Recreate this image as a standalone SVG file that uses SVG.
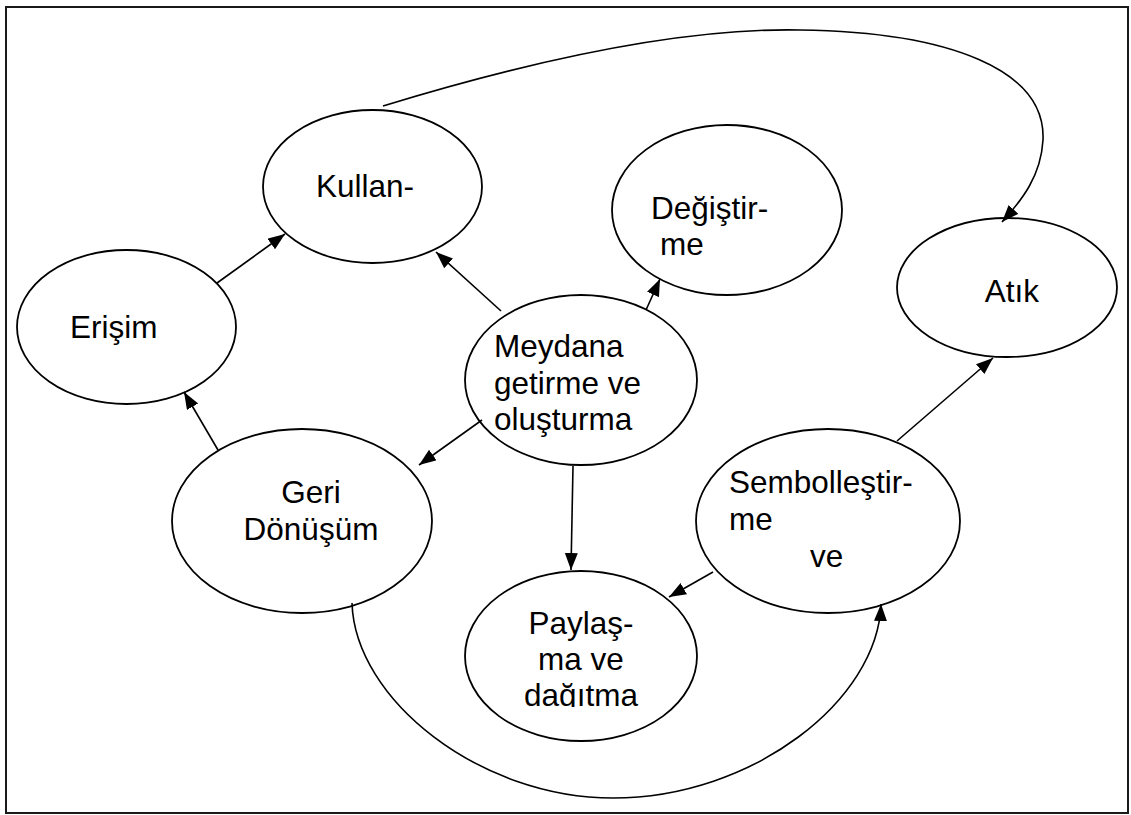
<svg xmlns="http://www.w3.org/2000/svg" width="1131" height="815" viewBox="0 0 1131 815">
  <style>
    .node { fill: #ffffff; stroke: #000000; stroke-width: 1.8; }
    .lbl { font-family: "Liberation Sans", Arial, sans-serif; font-size: 31.5px; fill: #000000; }
    .mid { text-anchor: middle; }
    .edge { fill: none; stroke: #000000; stroke-width: 1.6; marker-end: url(#arrow); }
    .frame { fill: none; stroke: #1a1a1a; stroke-width: 2; }
  </style>
  <defs>
    <marker id="arrow" markerUnits="userSpaceOnUse" markerWidth="18" markerHeight="14" refX="17" refY="6.5" orient="auto">
      <path d="M0,0 L17,6.5 L0,13 Z" fill="#000000"/>
    </marker>
    <clipPath id="clipPaylasma">
      <rect x="465" y="571" width="232" height="136"/>
    </clipPath>
  </defs>

  <rect width="1131" height="815" fill="#ffffff"/>
  <rect class="frame" x="6" y="7" width="1122" height="806"/>

  <g id="node-kullan">
    <ellipse class="node" cx="372.5" cy="186.5" rx="109.5" ry="76.5"/>
    <text class="lbl" x="316" y="197">Kullan-</text>
  </g>

  <g id="node-degistirme">
    <ellipse class="node" cx="727" cy="210" rx="115" ry="85"/>
    <text class="lbl" x="651" y="219">Değiştir-</text>
    <text class="lbl" x="660" y="255">me</text>
  </g>

  <g id="node-atik">
    <ellipse class="node" cx="1007" cy="287.5" rx="110" ry="69.5"/>
    <text class="lbl mid" x="1012" y="302">Atık</text>
  </g>

  <g id="node-erisim">
    <ellipse class="node" cx="126.5" cy="327" rx="109.5" ry="77"/>
    <text class="lbl" x="70" y="338">Erişim</text>
  </g>

  <g id="node-meydana">
    <ellipse class="node" cx="581" cy="380" rx="116" ry="85"/>
    <text class="lbl" x="494" y="357">Meydana</text>
    <text class="lbl" x="494" y="394">getirme ve</text>
    <text class="lbl" x="494" y="430">oluşturma</text>
  </g>

  <g id="node-geri">
    <ellipse class="node" cx="302" cy="521" rx="130" ry="92"/>
    <text class="lbl mid" x="311" y="503">Geri</text>
    <text class="lbl mid" x="311" y="540">Dönüşüm</text>
  </g>

  <g id="node-sembol">
    <ellipse class="node" cx="828" cy="521" rx="132" ry="92"/>
    <text class="lbl" x="729" y="493">Sembolleştir-</text>
    <text class="lbl" x="729" y="530">me</text>
    <text class="lbl" x="810" y="567">ve</text>
  </g>

  <g id="node-paylasma">
    <ellipse class="node" cx="581" cy="656" rx="116" ry="85"/>
    <g clip-path="url(#clipPaylasma)">
      <text class="lbl mid" x="581" y="634">Paylaş-</text>
      <text class="lbl mid" x="581" y="670">ma ve</text>
      <text class="lbl mid" x="581" y="706">dağıtma</text>
    </g>
  </g>

  <g id="connectors">
    <!-- Kullan- over the top to Atık -->
    <path class="edge" d="M383,106 C560,52 700,28 800,30 C950,32 1046,70 1043,140 C1041,176 1022,200 1002,222"/>
    <!-- Erişim to Kullan- -->
    <path class="edge" d="M217,283 L285,234"/>
    <!-- Geri Dönüşüm to Erişim -->
    <path class="edge" d="M218,450 L184,392"/>
    <!-- Meydana getirme ve oluşturma outgoing -->
    <path class="edge" d="M501,311 L436,252"/>
    <path class="edge" d="M646,310 L660,279"/>
    <path class="edge" d="M482,420 L419,465"/>
    <path class="edge" d="M573,466 L571,570"/>
    <!-- Sembolleştirme outgoing -->
    <path class="edge" d="M897,441 L993,358"/>
    <path class="edge" d="M713,572 L669,597"/>
    <!-- Geri Dönüşüm under the bottom to Sembolleştirme -->
    <path class="edge" d="M352,603 C355,700 480,798 613,798 C753,798 878,700 881,604"/>
  </g>
</svg>
